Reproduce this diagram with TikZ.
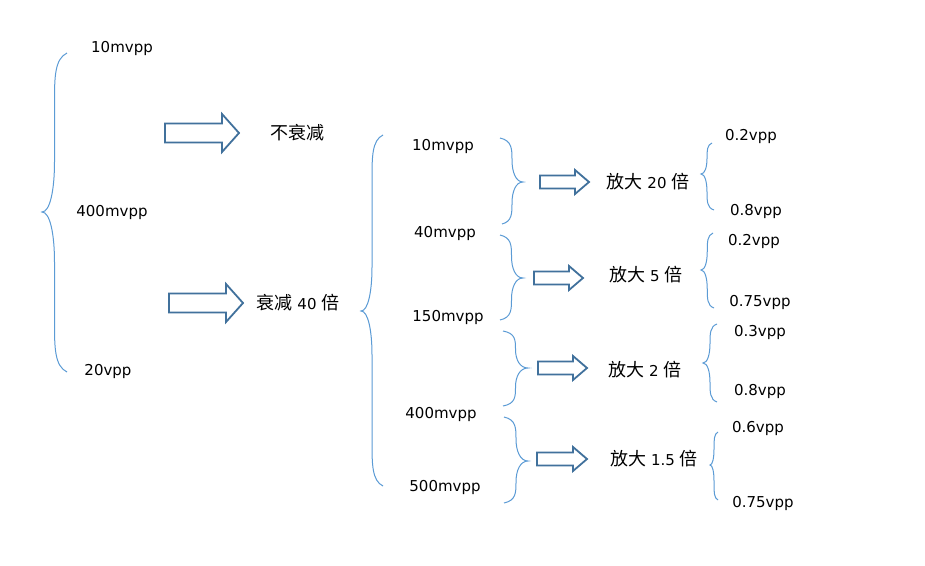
\documentclass[tikz,border=0pt]{standalone}
\usepackage{fontspec}
\setmainfont{DejaVu Sans}
\newfontfamily\cjk{Noto Sans CJK SC}[Scale=1.2]
\definecolor{braceblue}{RGB}{91,155,213}
\definecolor{arrowblue}{RGB}{65,113,156}
\newcommand\blockarrow[6]{% x1 x2 yc bodyh headh headlen
  \draw[blockarr] (#1,{#3-#4/2}) -- ({#2-#6},{#3-#4/2}) -- ({#2-#6},{#3-#5/2}) -- (#2,#3)
    -- ({#2-#6},{#3+#5/2}) -- ({#2-#6},{#3+#4/2}) -- (#1,{#3+#4/2}) -- cycle;}
\newcommand\wbrace[6]{% xt yt xp yp xb yb
  \pgfmathsetmacro\bxm{((#1+#5)/2+#3)/2}%
  \pgfmathsetmacro\bnib{\bxm+(#3-\bxm)*0.35}%
  \pgfmathsetmacro\bha{min(abs(#1-#3)*2,(#4-#2)*0.5)}%
  \pgfmathsetmacro\bhb{min(abs(#5-#3)*2,(#6-#4)*0.5)}%
  \draw[bracestyle] (#1,#2) .. controls (\bxm,{#2+\bha*0.12}) and (\bxm,{#2+\bha*0.5}) .. (\bxm,{#2+\bha})
    -- (\bxm,{#4-\bha}) .. controls (\bxm,{#4-\bha*0.45}) and (\bnib,#4) .. (#3,#4)
    .. controls (\bnib,#4) and (\bxm,{#4+\bhb*0.45}) .. (\bxm,{#4+\bhb})
    -- (\bxm,{#6-\bhb}) .. controls (\bxm,{#6-\bhb*0.5}) and (\bxm,{#6-\bhb*0.12}) .. (#5,#6);}
\begin{document}
\begin{tikzpicture}[x=1pt,y=-1pt,
  lbl/.style={font=\fontsize{15}{18}\selectfont, inner sep=0pt, anchor=center},
  bracestyle/.style={draw=braceblue, line width=1pt},
  blockarr/.style={draw=arrowblue, line width=1.8pt, fill=white, line join=miter}]
\useasboundingbox[fill=white] (0,0) rectangle (925,565);
% braces
\wbrace{67}{53}{42}{212}{67}{372}
\wbrace{383}{135}{361}{311}{383}{486}
\wbrace{500}{138}{523}{182}{502}{224}
\wbrace{500}{235}{523}{278}{500}{320}
\wbrace{503}{331}{528}{368}{503}{406}
\wbrace{504}{417}{528}{461}{504}{503}
\wbrace{712}{143}{701}{174}{714}{210}
\wbrace{713}{233}{701}{270}{714}{308}
\wbrace{717}{324}{703}{363}{717}{402}
\wbrace{718}{432}{710}{465}{718}{500}
% block arrows
\blockarrow{165}{239}{133}{19}{38}{17}
\blockarrow{169}{243}{303}{19}{38}{17}
\blockarrow{540}{589}{182}{13}{24}{14}
\blockarrow{534}{583}{278}{13}{24}{14}
\blockarrow{538}{587}{368}{13}{24}{14}
\blockarrow{537}{587}{459}{13}{24}{14}
% labels
\node[lbl] (l1) at (122,48) {10mvpp};
\node[lbl] (l2) at (112,212) {400mvpp};
\node[lbl] (l3) at (108,371) {20vpp};
\node[lbl] (na) at (297,133) {\cjk 不衰减};
\node[lbl] (att) at (298,303) {{\cjk 衰减} 40 {\cjk 倍}};
\node[lbl] (m1) at (443,146) {10mvpp};
\node[lbl] (m2) at (445,233) {40mvpp};
\node[lbl] (m3) at (448,317) {150mvpp};
\node[lbl] (m4) at (441,414) {400mvpp};
\node[lbl] (m5) at (445,487) {500mvpp};
\node[lbl] (g1) at (648,182) {{\cjk 放大} 20 {\cjk 倍}};
\node[lbl] (g2) at (646,275) {{\cjk 放大} 5 {\cjk 倍}};
\node[lbl] (g3) at (645,370) {{\cjk 放大} 2 {\cjk 倍}};
\node[lbl] (g4) at (654,459) {{\cjk 放大} 1.5 {\cjk 倍}};
\node[lbl] (r1) at (751,136) {0.2vpp};
\node[lbl] (r2) at (756,211) {0.8vpp};
\node[lbl] (r3) at (754,241) {0.2vpp};
\node[lbl] (r4) at (760,302) {0.75vpp};
\node[lbl] (r5) at (760,332) {0.3vpp};
\node[lbl] (r6) at (760,391) {0.8vpp};
\node[lbl] (r7) at (758,428) {0.6vpp};
\node[lbl] (r8) at (763,503) {0.75vpp};
\end{tikzpicture}
\end{document}
